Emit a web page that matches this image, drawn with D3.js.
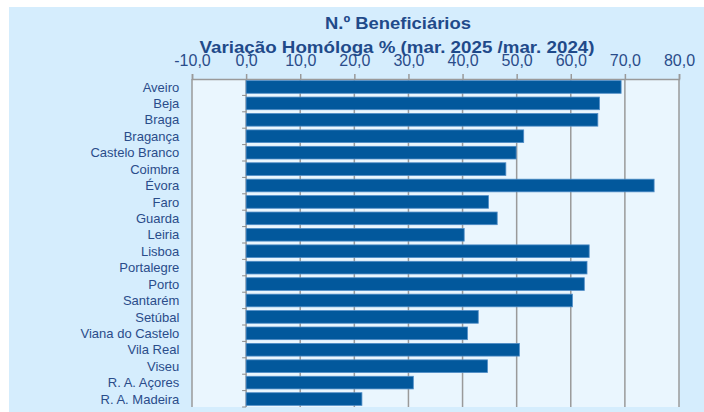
<!DOCTYPE html>
<html>
<head>
<meta charset="utf-8">
<title>N.º Beneficiários</title>
<style>
  body { margin: 0; background: #fff; }
  .title { font: bold 17px "Liberation Sans", Arial, sans-serif; fill: #1f4a8a; text-anchor: middle; }
  .tick text { font: 16px "Liberation Sans", Arial, sans-serif; fill: #2a4c8a; }
  .cat { font: 13px "Liberation Sans", Arial, sans-serif; fill: #2a4c8a; text-anchor: end; }
</style>
</head>
<body>
<svg width="704" height="412"></svg>
<script src="https://d3js.org/d3.v7.min.js"></script>
<script>
var districts = ["Aveiro", "Beja", "Braga", "Bragança", "Castelo Branco", "Coimbra", "Évora",
  "Faro", "Guarda", "Leiria", "Lisboa", "Portalegre", "Porto", "Santarém", "Setúbal",
  "Viana do Castelo", "Vila Real", "Viseu", "R. A. Açores", "R. A. Madeira"];
var variation = [69.3, 65.3, 65.0, 51.3, 49.9, 48.0, 75.4, 44.8, 46.4, 40.3, 63.4, 63.0,
  62.5, 60.3, 42.9, 40.9, 50.5, 44.6, 30.9, 21.4];
var xTicks = [-10, 0, 10, 20, 30, 40, 50, 60, 70, 80];

var svg = d3.select("svg");
var margin = { top: 79, left: 192 },
    plotW = 487,
    plotH = 328;

// outer panel
svg.append("rect").attr("x", 9).attr("y", 7).attr("width", 695).attr("height", 405).attr("fill", "#d5edfd");

var g = svg.append("g").attr("transform", "translate(" + margin.left + "," + margin.top + ")");

var x = d3.scaleLinear().domain([-10, 80]).range([0, plotW]);
var y = d3.scaleBand().domain(districts).range([0, plotH]).paddingInner(0.23).paddingOuter(0.1);

g.append("rect").attr("width", plotW).attr("height", plotH).attr("fill", "#eaf6fe");

// gridlines
g.selectAll(".grid").data(xTicks).enter().append("line")
    .attr("x1", function(d) { return x(d); }).attr("x2", function(d) { return x(d); })
    .attr("y1", 0).attr("y2", plotH)
    .attr("stroke", "#9a9a9a").attr("stroke-width", 1.5);

// top axis
var xAxis = g.append("g").call(d3.axisTop(x).tickValues(xTicks).tickSize(5).tickPadding(8.3)
    .tickFormat(function(d) { return d3.format(".1f")(d).replace("−", "-").replace(".", ","); }));
xAxis.select(".domain").attr("stroke", "#9a9a9a").attr("stroke-width", 1.5);
xAxis.selectAll(".tick line").attr("stroke", "#9a9a9a").attr("stroke-width", 1.5);

// bars
g.selectAll(".bar").data(districts).enter().append("rect")
    .attr("x", x(0))
    .attr("y", function(d) { return y(d); })
    .attr("width", function(d, i) { return x(variation[i]) - x(0); })
    .attr("height", y.bandwidth())
    .attr("fill", "#02589c")
    .attr("stroke", "#4f8cc6").attr("stroke-width", 0.8);

// category axis ticks at band boundaries on the zero line
g.selectAll(".ctick").data(d3.range(1, districts.length + 1)).enter().append("line")
    .attr("x1", x(0) - 4).attr("x2", x(0))
    .attr("y1", function(d) { return d * plotH / districts.length; })
    .attr("y2", function(d) { return d * plotH / districts.length; })
    .attr("stroke", "#8a8a8a");

// category labels
g.selectAll(".cat").data(districts).enter().append("text")
    .attr("class", "cat")
    .attr("x", -12.7)
    .attr("y", function(d) { return y(d) + y.bandwidth() / 2; })
    .attr("dy", "0.36em")
    .text(function(d) { return d; });

svg.append("text").attr("class", "title").attr("x", 398).attr("y", 29)
    .attr("textLength", 146).attr("lengthAdjust", "spacingAndGlyphs")
    .text("N.º Beneficiários");
svg.append("text").attr("class", "title").attr("x", 397).attr("y", 52.7)
    .attr("textLength", 395).attr("lengthAdjust", "spacingAndGlyphs")
    .text("Variação Homóloga % (mar. 2025 /mar. 2024)");
</script>
</body>
</html>
